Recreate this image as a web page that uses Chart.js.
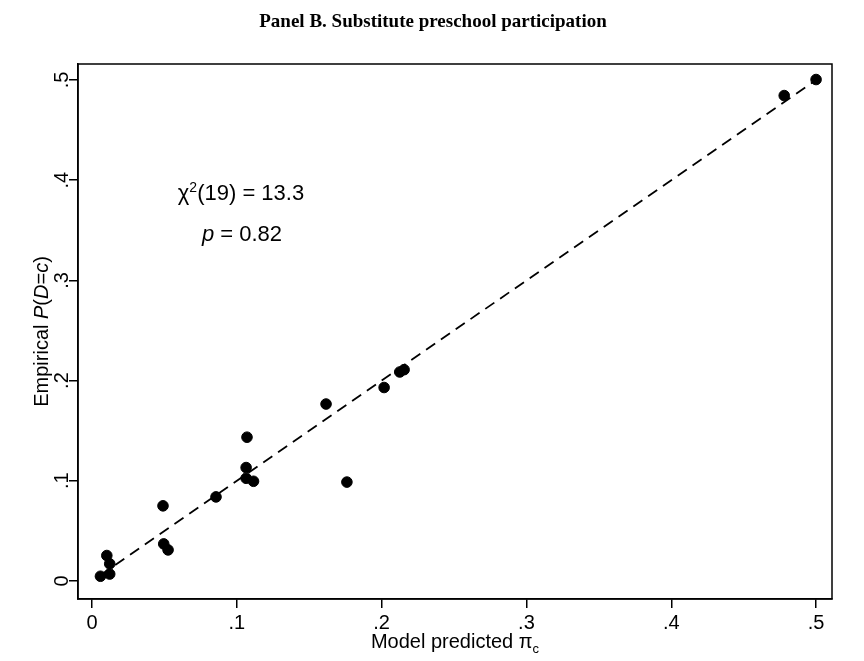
<!DOCTYPE html>
<html><head><meta charset="utf-8">
<script src="https://cdn.jsdelivr.net/npm/chart.js@4/dist/chart.umd.min.js"></script>
<style>html,body{margin:0;padding:0;background:#fff;} #wrap{width:864px;height:661px;position:relative;}</style>
</head><body><div id="wrap"><canvas id="c" width="864" height="661"></canvas></div>
<script>
const titleText = "Panel B. Substitute preschool participation";
const xTicks = [0, 0.1, 0.2, 0.3, 0.4, 0.5];
const xTickLabels = ["0", ".1", ".2", ".3", ".4", ".5"];
const yTicks = [0, 0.1, 0.2, 0.3, 0.4, 0.5];
const yTickLabels = ["0", ".1", ".2", ".3", ".4", ".5"];
const predicted = [0.0058, 0.0122, 0.0122, 0.0102, 0.049, 0.0495, 0.0525, 0.0856, 0.1064, 0.1115, 0.107, 0.1064, 0.176, 0.1616, 0.2017, 0.2125, 0.2155, 0.478, 0.5];
const empirical = [0.0047, 0.0069, 0.0171, 0.0254, 0.075, 0.037, 0.031, 0.0839, 0.1025, 0.0995, 0.1435, 0.1132, 0.0987, 0.1766, 0.1931, 0.2086, 0.2109, 0.4845, 0.5005];
const chiDf = "19";
const chiValue = "13.3";
const pValue = "0.82";

const pts = predicted.map((x, i) => ({x: x, y: empirical[i]}));
const lo = Math.min(...predicted), hi = Math.max(...predicted);
const linePts = [{x: lo, y: lo}, {x: hi, y: hi}];

const SANS = '"Liberation Sans", Arial, sans-serif';

function drawRuns(ctx, runs, cx, cy, size) {
  let total = 0;
  const items = runs.map(r => {
    const fs = (r.sup || r.sub) ? Math.round(size * 0.65) : size;
    const font = (r.it ? 'italic ' : '') + fs + 'px ' + SANS;
    ctx.font = font;
    const w = ctx.measureText(r.t).width;
    total += w;
    return {r, font, w, fs};
  });
  let x = cx - total / 2;
  ctx.textBaseline = 'alphabetic';
  ctx.textAlign = 'left';
  items.forEach(it => {
    ctx.font = it.font;
    let dy = 0;
    if (it.r.sup) dy = -size * 0.38;
    if (it.r.sub) dy = size * 0.25;
    ctx.fillText(it.r.t, x, cy + dy);
    x += it.w;
  });
}

const framePlugin = {
  id: 'frame',
  afterDraw(chart) {
    const ctx = chart.ctx;
    const a = chart.chartArea;
    ctx.save();
    ctx.strokeStyle = '#000';
    ctx.lineWidth = 1.5;
    ctx.strokeRect(a.left, a.top, a.right - a.left, a.bottom - a.top);
    ctx.fillStyle = '#000';
    ctx.font = 'bold 19px "Liberation Serif", "Times New Roman", serif';
    ctx.textAlign = 'center';
    ctx.textBaseline = 'middle';
    ctx.fillText(titleText, 433, 22);
    const ys = chart.scales.y;
    ctx.font = '20px ' + SANS;
    yTicks.forEach((v, i) => {
      const py = ys.getPixelForValue(v);
      ctx.save();
      ctx.translate(62, py);
      ctx.rotate(-Math.PI / 2);
      ctx.textAlign = 'center';
      ctx.textBaseline = 'middle';
      ctx.fillText(yTickLabels[i], 0, 0);
      ctx.restore();
    });
    ctx.save();
    ctx.translate(41, (a.top + a.bottom) / 2);
    ctx.rotate(-Math.PI / 2);
    drawRuns(ctx, [{t: 'Empirical '}, {t: 'P', it: true}, {t: '('}, {t: 'D', it: true}, {t: '='}, {t: 'c', it: true}, {t: ')'}], 0, 7, 20);
    ctx.restore();
    drawRuns(ctx, [{t: 'Model predicted \u03C0'}, {t: 'c', sub: true}], (a.left + a.right) / 2, 648, 20);
    drawRuns(ctx, [{t: '\u03C7'}, {t: '2', sup: true}, {t: '(' + chiDf + ') = ' + chiValue}], 241, 200, 22);
    drawRuns(ctx, [{t: 'p', it: true}, {t: ' = ' + pValue}], 242, 241, 22);
    ctx.restore();
  }
};

new Chart(document.getElementById('c'), {
  type: 'scatter',
  data: {
    datasets: [
      {data: pts, backgroundColor: '#000', borderColor: '#000', pointRadius: 5.3, pointHoverRadius: 5.3, order: 1},
      {data: linePts, showLine: true, borderColor: '#000', borderWidth: 1.8, borderDash: [11, 7], pointRadius: 0, fill: false, order: 2}
    ]
  },
  options: {
    responsive: false,
    animation: false,
    devicePixelRatio: 1,
    layout: {padding: {top: 64, right: 32, left: 0, bottom: 0}},
    plugins: {legend: {display: false}, tooltip: {enabled: false}},
    scales: {
      x: {
        type: 'linear', min: -0.0097, max: 0.511,
        afterBuildTicks: s => { s.ticks = xTicks.map(v => ({value: v})); },
        afterFit: s => { s.height = 62; },
        ticks: {callback: (v, i) => xTickLabels[i], color: '#000', font: {family: SANS, size: 20}, padding: 3, maxRotation: 0, autoSkip: false},
        grid: {drawOnChartArea: false, drawTicks: true, tickLength: 9, color: '#000', lineWidth: 1.5},
        border: {display: true, color: '#000', width: 1.5}
      },
      y: {
        type: 'linear', min: -0.018, max: 0.516,
        afterBuildTicks: s => { s.ticks = yTicks.map(v => ({value: v})); },
        afterFit: s => { s.width = 78; },
        ticks: {display: false},
        grid: {drawOnChartArea: false, drawTicks: true, tickLength: 9, color: '#000', lineWidth: 1.5},
        border: {display: true, color: '#000', width: 1.5}
      }
    }
  },
  plugins: [framePlugin]
});
</script></body></html>
